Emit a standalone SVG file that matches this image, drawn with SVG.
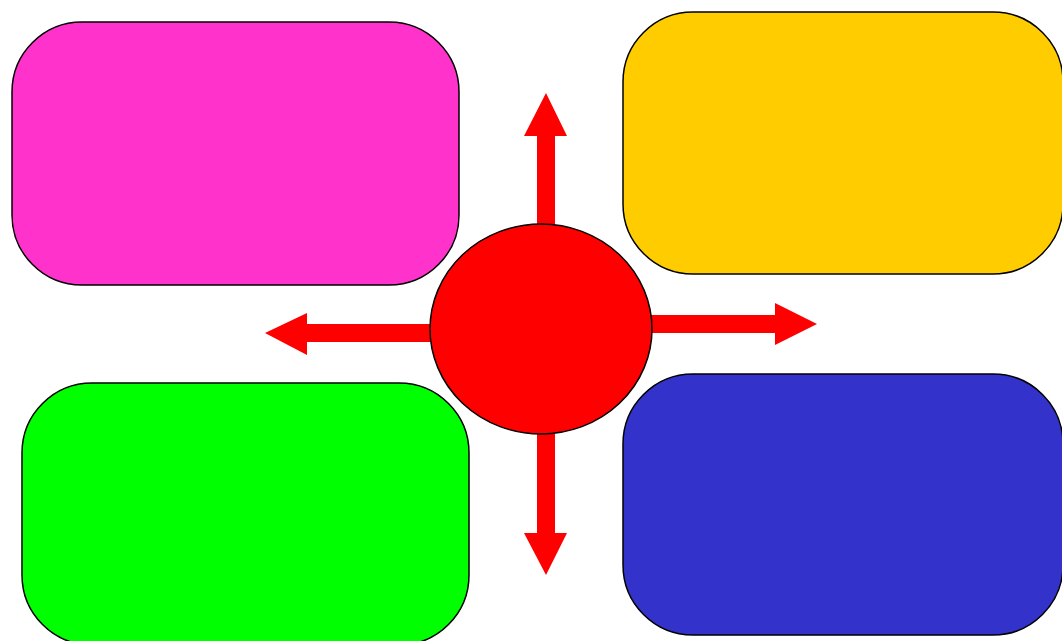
<svg xmlns="http://www.w3.org/2000/svg" width="1062" height="641" viewBox="0 0 1062 641">
<style>
.box{stroke:#000;stroke-width:1.5}
.arrow{fill:#ff0000;stroke:none}
</style>
<rect width="1062" height="641" fill="#fff"/>
<g id="connectors">
<polygon class="arrow" points="537,226 537,136 524,136 546,93 567,136 555,136 555,226"/>
<polygon class="arrow" points="432,324 307,324 307,313 265,333 307,355 307,342 432,342"/>
<polygon class="arrow" points="650,315 775,315 775,303 817,324 775,345 775,333 650,333"/>
<polygon class="arrow" points="537,432 537,533 524,533 546,575 567,533 555,533 555,432"/>
</g>
<g id="node-magenta"><rect class="box" x="12" y="22" width="447" height="263" rx="70" ry="70" fill="#ff33cc"/></g>
<g id="node-yellow"><rect class="box" x="623" y="12" width="440" height="262" rx="70" ry="70" fill="#ffcc00"/></g>
<g id="node-green"><rect class="box" x="22" y="383" width="447" height="262" rx="70" ry="70" fill="#00ff00"/></g>
<g id="node-blue"><rect class="box" x="623" y="374" width="440" height="261" rx="70" ry="70" fill="#3333cc"/></g>
<g id="node-center"><ellipse class="box" cx="541" cy="329" rx="111" ry="105" fill="#ff0000"/></g>
</svg>
